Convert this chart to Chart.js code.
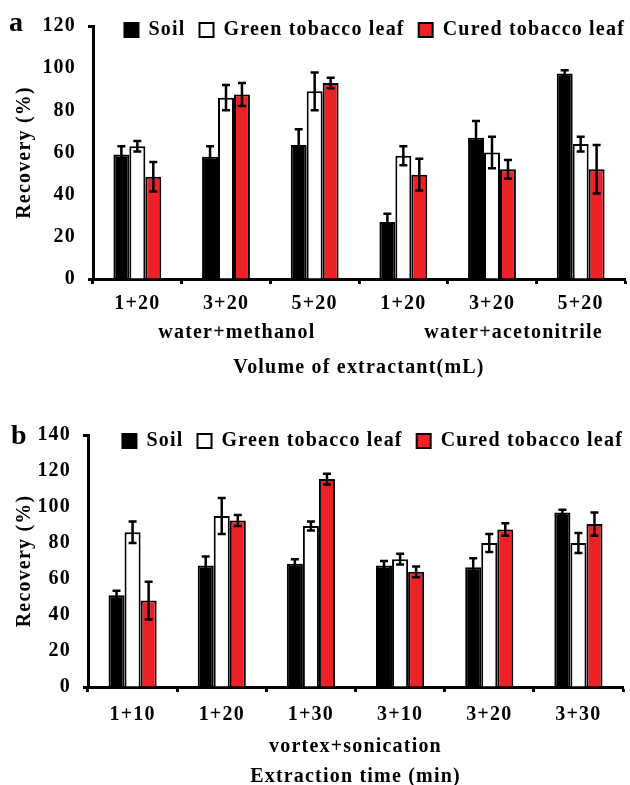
<!DOCTYPE html>
<html>
<head>
<meta charset="utf-8">
<script src="https://cdn.jsdelivr.net/npm/chart.js@4.4.1/dist/chart.umd.min.js"></script>
<style>
  html, body { margin: 0; padding: 0; background: #fff; overflow: hidden; }
  #wrap { position: relative; width: 630px; height: 785px; overflow: hidden; }
  canvas { position: absolute; left: 0; }
  #chart-a { top: 0; }
  #chart-b { top: 400px; }
</style>
</head>
<body>
<div id="wrap">
  <canvas id="chart-a" width="630" height="400"></canvas>
  <canvas id="chart-b" width="630" height="395"></canvas>
</div>
<script>
const seriesNames = ['Soil', 'Green tobacco leaf', 'Cured tobacco leaf'];
const seriesFill = ['#000000', '#FFFFFF', '#EC2227'];

// panel a: volume of extractant
const volumeLabels = ['1+20', '3+20', '5+20', '1+20', '3+20', '5+20'];
const solventLabels = ['water+methanol', '', '', 'water+acetonitrile', '', ''];
const soilA = [59, 58, 63.5, 27, 67, 97.5];
const greenA = [63, 86, 89, 58.5, 60, 64];
const curedA = [48.5, 87.5, 93, 49.5, 52, 52];
const soilErrA = [4, 5, 7.5, 4, 8, 1.5];
const greenErrA = [2.5, 6, 9, 4.5, 7.5, 3.5];
const curedErrA = [7, 5.5, 2.5, 7.5, 4.5, 11.5];

// panel b: extraction time
const timeLabels = ['1+10', '1+20', '1+30', '3+10', '3+20', '3+30'];
const methodLabels = ['vortex+sonication'];
const soilB = [51, 67.5, 68.5, 67.5, 66.5, 97];
const greenB = [86, 95, 89.5, 71, 80, 80];
const curedB = [48, 92.5, 115.5, 64, 87.5, 90.5];
const soilErrB = [2.5, 5, 2.5, 2.5, 5, 1.5];
const greenErrB = [6, 10, 2.5, 3, 5, 5.5];
const curedErrB = [10.5, 3, 3, 3, 3.5, 6.5];

const serif = "'Liberation Serif', 'Times New Roman', serif";
Chart.defaults.font.family = serif;
Chart.defaults.font.weight = 'bold';
Chart.defaults.font.size = 20;
Chart.defaults.color = '#000';

// the source figure is stretched sideways, so the text is spaced out a bit
const letterSpacing = {
  id: 'letterSpacing',
  beforeUpdate(chart) { chart.ctx.letterSpacing = '1.2px'; },
  beforeDraw(chart) { chart.ctx.letterSpacing = '1.2px'; }
};

// legend takes no room and is pulled down onto the top edge of the plot
const legendShift = {
  id: 'legendShift',
  beforeLayout(chart) {
    const l = chart.legend;
    if (l && !l._flat) {
      const fit = l.fit.bind(l);
      l.fit = function () { fit(); this._fullHeight = this.height; this.height = 0; };
      l._flat = true;
    }
  },
  afterLayout(chart, args, opts) {
    const l = chart.legend;
    l.left += opts.dx; l.right += opts.dx;
    l.top -= opts.dy;
    l.height = l._fullHeight;
    l.bottom = l.top + l.height;
  }
};

const errorBars = {
  id: 'errorBars',
  afterDatasetsDraw(chart) {
    const { ctx } = chart;
    const y = chart.scales.y;
    chart.data.datasets.forEach((ds, i) => {
      chart.getDatasetMeta(i).data.forEach((bar, j) => {
        const v = ds.data[j], e = ds.errors[j];
        const top = y.getPixelForValue(v + e);
        const bot = y.getPixelForValue(v - e);
        ctx.save();
        ctx.strokeStyle = '#000';
        ctx.lineWidth = 2.5;
        ctx.beginPath();
        ctx.moveTo(bar.x, top); ctx.lineTo(bar.x, bot);
        ctx.moveTo(bar.x - 4, top); ctx.lineTo(bar.x + 4, top);
        ctx.moveTo(bar.x - 4, bot); ctx.lineTo(bar.x + 4, bot);
        ctx.stroke();
        ctx.restore();
      });
    });
  }
};

const panelLetter = {
  id: 'panelLetter',
  afterDraw(chart, args, opts) {
    const { ctx } = chart;
    ctx.save();
    ctx.font = 'bold 28px ' + serif;
    ctx.fillStyle = '#000';
    ctx.textBaseline = 'alphabetic';
    ctx.fillText(opts.text, opts.x, opts.y);
    ctx.restore();
  }
};

function buildChart(id, p) {
  const yMax = p.max;
  return new Chart(document.getElementById(id), {
    type: 'bar',
    data: {
      labels: p.labels,
      datasets: seriesNames.map((name, i) => ({
        label: name,
        data: p.values[i],
        errors: p.errors[i],
        backgroundColor: seriesFill[i],
        borderColor: '#000',
        borderWidth: 2,
        categoryPercentage: 0.54,
        barPercentage: 1
      }))
    },
    options: {
      responsive: false,
      animation: false,
      layout: { padding: { top: p.top, right: p.right, left: 0, bottom: 0 } },
      plugins: {
        legend: {
          position: 'top',
          align: 'end',
          labels: { boxWidth: 14, boxHeight: 14, padding: 14, color: '#000', font: { size: 20, weight: 'bold' } }
        },
        tooltip: { enabled: false },
        legendShift: { dx: 14, dy: p.legendDy },
        panelLetter: { text: p.letter, x: p.letterX, y: p.letterY }
      },
      scales: {
        x: {
          offset: true,
          grid: { offset: true, drawOnChartArea: false, tickLength: 5, tickWidth: 3, tickColor: '#000' },
          border: { color: '#000', width: 3 },
          ticks: { padding: p.tickPad, autoSkip: false, maxRotation: 0, color: '#000' },
          afterFit: s => { s.height = 40; }
        },
        x2: {
          type: 'category',
          position: 'bottom',
          offset: true,
          labels: p.groupLabels,
          grid: { display: false, drawTicks: false },
          border: { display: false },
          ticks: { padding: p.groupPad, autoSkip: false, maxRotation: 0, align: p.groupAlign, labelOffset: p.groupOffset, color: '#000' },
          title: { display: true, text: p.xTitle, color: '#000', font: { size: 20, weight: 'bold' }, padding: { top: 0, bottom: p.titlePad } },
          afterFit: s => { s.height = p.x2Height; }
        },
        y: {
          min: 0,
          max: yMax,
          ticks: { stepSize: 20, padding: 12, color: '#000' },
          grid: {
            drawOnChartArea: false, tickLength: 5, tickWidth: 3,
            tickColor: c => (c.tick && (c.tick.value === 0 || c.tick.value === yMax)) ? '#000' : 'rgba(0,0,0,0)'
          },
          border: { color: '#000', width: 3 },
          title: { display: true, text: 'Recovery (%)', color: '#000', font: { size: 20, weight: 'bold' }, padding: { top: 13, bottom: 0 } },
          afterFit: s => { s.width = p.left; }
        }
      }
    },
    plugins: [letterSpacing, legendShift, errorBars, panelLetter]
  });
}

buildChart('chart-a', {
  labels: volumeLabels,
  values: [soilA, greenA, curedA],
  errors: [soilErrA, greenErrA, curedErrA],
  max: 120,
  top: 26, right: 5, left: 93,
  legendDy: 20,
  letter: 'a', letterX: 9, letterY: 31,
  tickPad: 8,
  groupLabels: solventLabels, groupAlign: 'start', groupOffset: 21, groupPad: 2,
  xTitle: 'Volume of extractant(mL)', titlePad: 20, x2Height: 81
});

buildChart('chart-b', {
  labels: timeLabels,
  values: [soilB, greenB, curedB],
  errors: [soilErrB, greenErrB, curedErrB],
  max: 140,
  top: 35, right: 7, left: 88,
  legendDy: 18,
  letter: 'b', letterX: 11, letterY: 44,
  tickPad: 11,
  groupLabels: methodLabels, groupAlign: 'center', groupOffset: 0, groupPad: 8,
  xTitle: 'Extraction time (min)', titlePad: 6, x2Height: 68
});
</script>
</body>
</html>
